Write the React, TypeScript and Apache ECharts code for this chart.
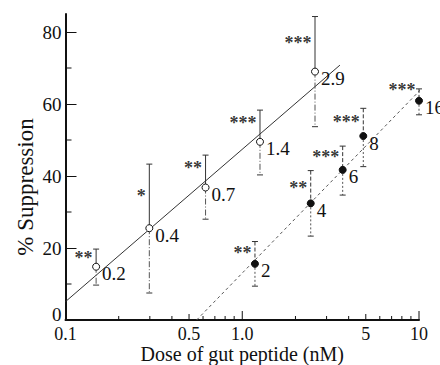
import React, { useEffect, useRef } from "react";
import * as echarts from "echarts";

// Open circles (series 1)
const openDose = [0.149, 0.298, 0.62, 1.26, 2.58];
const openMean = [14.8, 25.5, 36.8, 49.5, 69.0];
const openLow = [9.7, 7.5, 28.0, 40.3, 53.7];
const openHigh = [19.7, 43.3, 45.8, 58.3, 84.3];
const openLabels = ["0.2", "0.4", "0.7", "1.4", "2.9"];
const openStars = ["**", "*", "**", "***", "***"];
const openStarLevel = [17.2, 34.4, 42.2, 54.7, 76.9];

// Filled circles (series 2)
const filledDose = [1.18, 2.44, 3.7, 4.84, 10.0];
const filledMean = [15.6, 32.4, 41.7, 51.1, 60.9];
const filledLow = [9.4, 23.3, 34.7, 42.6, 57.0];
const filledHigh = [21.8, 41.5, 48.3, 58.8, 64.2];
const filledLabels = ["2", "4", "6", "8", "16"];
const filledStars = ["**", "**", "***", "***", "***"];
const filledStarLevel = [18.7, 36.6, 45.4, 55.0, 64.0];

// Fitted lines (end points)
const fitOpen = [
  [0.1, 5.1],
  [3.57, 70.8],
];
const fitFilled = [
  [0.552, 0],
  [11.3, 66.2],
];

// Ticks
const yTicks = [0, 20, 40, 60, 80];
const yMinorTicks = [10, 30, 50, 70];
const xTickLabels = [0.1, 0.5, 1, 5, 10];
const xMajorTicks = [0.1, 1, 10];
const xMidTicks = [0.5, 5];
const xMinorTicks = [0.2, 0.3, 0.4, 0.6, 0.7, 0.8, 0.9, 2, 3, 4, 6, 7, 8, 9];

const SERIF = "'Liberation Serif', 'Times New Roman', serif";
const INK = "#111111";

function tickSeries(values: number[], axis: "x" | "y", len: number) {
  return {
    type: "custom",
    silent: true,
    clip: false,
    z: 5,
    data: values.map((v) => (axis === "x" ? [v, 0] : [0.1, v])),
    renderItem: (_p: any, api: any) => {
      const pt = api.coord([api.value(0), api.value(1)]);
      const shape =
        axis === "x"
          ? { x1: pt[0], y1: pt[1], x2: pt[0], y2: pt[1] - len }
          : { x1: pt[0], y1: pt[1], x2: pt[0] + len, y2: pt[1] };
      return { type: "line", shape, style: { stroke: INK, lineWidth: 1 } };
    },
  };
}

function errorSeries(
  xs: number[],
  means: number[],
  lows: number[],
  highs: number[],
  upperDash: any,
  lowerDash: any
) {
  return {
    type: "custom",
    silent: true,
    clip: false,
    z: 3,
    data: xs.map((x, i) => [x, means[i], lows[i], highs[i]]),
    renderItem: (_p: any, api: any) => {
      const x = api.value(0);
      const m = api.coord([x, api.value(1)]);
      const lo = api.coord([x, api.value(2)]);
      const hi = api.coord([x, api.value(3)]);
      const cap = 3;
      return {
        type: "group",
        children: [
          {
            type: "line",
            shape: { x1: hi[0], y1: hi[1], x2: m[0], y2: m[1] },
            style: { stroke: "#333", lineWidth: 1, lineDash: upperDash },
          },
          {
            type: "line",
            shape: { x1: m[0], y1: m[1], x2: lo[0], y2: lo[1] },
            style: { stroke: "#555", lineWidth: 1, lineDash: lowerDash },
          },
          {
            type: "line",
            shape: { x1: hi[0] - cap, y1: hi[1], x2: hi[0] + cap, y2: hi[1] },
            style: { stroke: "#333", lineWidth: 1 },
          },
          {
            type: "line",
            shape: { x1: lo[0] - cap, y1: lo[1], x2: lo[0] + cap, y2: lo[1] },
            style: { stroke: "#333", lineWidth: 1 },
          },
        ],
      };
    },
  };
}

function starSeries(xs: number[], levels: number[], stars: string[]) {
  return {
    type: "scatter",
    silent: true,
    symbol: "circle",
    symbolSize: 1,
    itemStyle: { color: "rgba(0,0,0,0)" },
    z: 6,
    data: xs.map((x, i) => [x, levels[i]]),
    labelLayout: { hideOverlap: false },
    label: {
      show: true,
      position: "left",
      distance: 3,
      formatter: (p: any) => stars[p.dataIndex],
      fontFamily: SERIF,
      fontSize: 18,
      fontWeight: "bold",
      color: "#000000",
      offset: [0, 5],
    },
  };
}

function pointSeries(
  xs: number[],
  means: number[],
  labels: string[],
  filled: boolean
) {
  return {
    type: "scatter",
    z: 7,
    symbol: "circle",
    symbolSize: 7,
    data: xs.map((x, i) => [x, means[i]]),
    itemStyle: {
      color: filled ? INK : "#ffffff",
      borderColor: INK,
      borderWidth: 1,
      opacity: 1,
    },
    label: {
      show: true,
      position: "right",
      distance: 2,
      offset: [0, 7],
      formatter: (p: any) => labels[p.dataIndex],
      fontFamily: SERIF,
      fontSize: 19,
      color: INK,
    },
  };
}

export default function App() {
  const ref = useRef<HTMLDivElement>(null);
  useEffect(() => {
    if (!ref.current) return;
    const chart = echarts.init(ref.current, null, { renderer: "svg" });
    chart.setOption({
      animation: false,
      backgroundColor: "#ffffff",
      grid: {
        left: 65.5,
        right: 21,
        top: 14,
        bottom: 45,
        outerBoundsMode: "none",
        containLabel: false,
      },
      xAxis: {
        type: "log",
        logBase: 10,
        min: 0.1,
        max: 10,
        name: "Dose of gut peptide (nM)",
        nameLocation: "middle",
        nameGap: 24,
        nameMoveOverlap: false,
        nameTextStyle: { fontFamily: SERIF, fontSize: 20, color: INK },
        axisLine: { show: true, lineStyle: { color: INK, width: 2 } },
        axisTick: { show: false },
        splitLine: { show: false },
        minorTick: { show: false },
        axisLabel: {
          customValues: xTickLabels,
          margin: 5,
          fontFamily: SERIF,
          fontSize: 18,
          color: INK,
          formatter: (v: number) => {
            const r = Math.round(v * 10) / 10;
            return r === 1 ? "1.0" : String(r);
          },
        },
      },
      yAxis: {
        type: "value",
        min: 0,
        max: 85,
        axisLine: { show: true, lineStyle: { color: INK, width: 2 } },
        axisTick: {
          show: true,
          inside: true,
          length: 11,
          customValues: yTicks,
          lineStyle: { color: INK, width: 1 },
        },
        splitLine: { show: false },
        axisLabel: {
          customValues: yTicks,
          margin: 4,
          fontFamily: SERIF,
          fontSize: 19,
          color: INK,
          formatter: (v: number) => (v === 0 ? "{z|0}" : String(v)),
          rich: {
            z: {
              fontFamily: SERIF,
              fontSize: 19,
              color: INK,
              padding: [0, 0, 12, 0],
            },
          },
        },
      },
      graphic: [
        {
          type: "text",
          x: 25,
          y: 187,
          rotation: Math.PI / 2,
          style: {
            text: "% Suppression",
            fontFamily: SERIF,
            fontSize: 23,
            fill: INK,
            align: "center",
            verticalAlign: "middle",
          },
        },
      ],
      series: [
        {
          type: "line",
          data: fitOpen,
          symbol: "none",
          clip: false,
          silent: true,
          z: 2,
          lineStyle: { color: "#333", width: 1 },
        },
        {
          type: "line",
          data: fitFilled,
          symbol: "none",
          clip: false,
          silent: true,
          z: 2,
          lineStyle: { color: "#555", width: 1, type: [3, 3] },
        },
        tickSeries(xMajorTicks, "x", 9),
        tickSeries(xMidTicks, "x", 6),
        tickSeries(xMinorTicks, "x", 4),
        tickSeries(yMinorTicks, "y", 6),
        errorSeries(openDose, openMean, openLow, openHigh, null, [6, 2, 1, 2]),
        errorSeries(filledDose, filledMean, filledLow, filledHigh, [4, 2], [2, 2]),
        starSeries(openDose, openStarLevel, openStars),
        starSeries(filledDose, filledStarLevel, filledStars),
        pointSeries(openDose, openMean, openLabels, false),
        pointSeries(filledDose, filledMean, filledLabels, true),
      ],
    });
    return () => chart.dispose();
  }, []);
  return (
    <div
      ref={ref}
      style={{ position: "fixed", left: 0, top: 0, width: 440, height: 365 }}
    />
  );
}
